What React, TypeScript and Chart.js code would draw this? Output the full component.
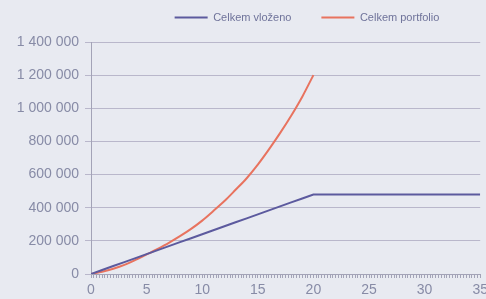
import React, { useEffect, useRef } from "react";
import { Chart, registerables } from "chart.js";

Chart.register(...registerables);

const years = [0, 1, 2, 3, 4, 5, 6, 7, 8, 9, 10, 11, 12, 13, 14, 15, 16, 17, 18, 19, 20, 21, 22, 23, 24, 25, 26, 27, 28, 29, 30, 31, 32, 33, 34, 35];
const vlozeno = [0, 24000, 48000, 72000, 96000, 120000, 144000, 168000, 192000, 216000, 240000, 264000, 288000, 312000, 336000, 360000, 384000, 408000, 432000, 456000, 480000, 480000, 480000, 480000, 480000, 480000, 480000, 480000, 480000, 480000, 480000, 480000, 480000, 480000, 480000, 480000];
const portfolio = [0, 14000, 32000, 55000, 85000, 118000, 152000, 188000, 228000, 272000, 322000, 380000, 440000, 508000, 578000, 660000, 752000, 850000, 955000, 1070000, 1200000];
const seriesNames = ["Celkem vloženo", "Celkem portfolio"];

const FONT = "'Liberation Sans', Arial, sans-serif";
const BG = "#e8eaf1";
const GRID = "#b9b7cb";
const AXIS = "#a3a3b7";
const TICK_TEXT = "#878ba6";
const LEGEND_TEXT = "#6f739a";
const BLUE = "#5c5a9e";
const RED = "#e8735f";

const fmt = (v: number) => String(v).replace(/\B(?=(\d{3})+(?!\d))/g, " ");

const legendTweak = {
  id: "legendTweak",
  beforeLayout(chart: any) {
    const lg = chart.legend;
    if (lg && !lg._patched) {
      const fit = lg.fit.bind(lg);
      lg.fit = function () {
        fit();
        this.height = 42;
      };
      lg._patched = true;
    }
  },
  afterLayout(chart: any) {
    const lg = chart.legend;
    if (!lg) return;
    const dx = 61;
    const dy = -18;
    lg.left += dx;
    lg.right += dx;
    lg.top += dy;
    lg.bottom += dy;
  },
};

export default function App() {
  const ref = useRef<HTMLCanvasElement | null>(null);
  useEffect(() => {
    if (!ref.current) return;
    const chart = new Chart(ref.current, {
      type: "line",
      data: {
        datasets: [
          {
            label: seriesNames[0],
            data: years.map((x, i) => ({ x, y: vlozeno[i] })),
            borderColor: BLUE,
            backgroundColor: BLUE,
            borderWidth: 2,
            pointRadius: 0,
            tension: 0,
          },
          {
            label: seriesNames[1],
            data: portfolio.map((y, i) => ({ x: years[i], y })),
            borderColor: RED,
            backgroundColor: RED,
            borderWidth: 2,
            pointRadius: 0,
            cubicInterpolationMode: "monotone",
          },
        ],
      },
      options: {
        responsive: false,
        animation: false,
        layout: { padding: 0 },
        plugins: {
          tooltip: { enabled: false },
          legend: {
            position: "top",
            align: "center",
            labels: {
              boxWidth: 33,
              boxHeight: 0,
              padding: 30,
              color: LEGEND_TEXT,
              font: { family: FONT, size: 11 },
            },
          },
        },
        scales: {
          x: {
            type: "linear",
            min: 0,
            max: 35,
            afterFit(scale: any) {
              scale.height = 25;
            },
            ticks: {
              stepSize: 0.25,
              autoSkip: false,
              maxRotation: 0,
              minRotation: 0,
              padding: 4,
              color: TICK_TEXT,
              font: { family: FONT, size: 14 },
              callback: (v: any) => (Number(v) % 5 === 0 ? String(v) : ""),
            },
            grid: { drawOnChartArea: false, drawTicks: true, tickLength: 4, color: AXIS },
            border: { display: true, color: AXIS },
          },
          y: {
            min: 0,
            max: 1400000,
            afterFit(scale: any) {
              scale.width = 91;
            },
            ticks: {
              stepSize: 200000,
              padding: 6,
              color: TICK_TEXT,
              font: { family: FONT, size: 14 },
              callback: (v: any) => fmt(Number(v)),
            },
            grid: { color: GRID, tickLength: 6 },
            border: { display: true, color: AXIS },
          },
        },
      },
      plugins: [legendTweak],
    });
    return () => chart.destroy();
  }, []);
  return (
    <div style={{ position: "fixed", left: 0, top: 0, width: 486, height: 299, overflow: "hidden", background: BG }}>
      <canvas ref={ref} width={492} height={299} style={{ width: 492, height: 299, display: "block" }} />
    </div>
  );
}
